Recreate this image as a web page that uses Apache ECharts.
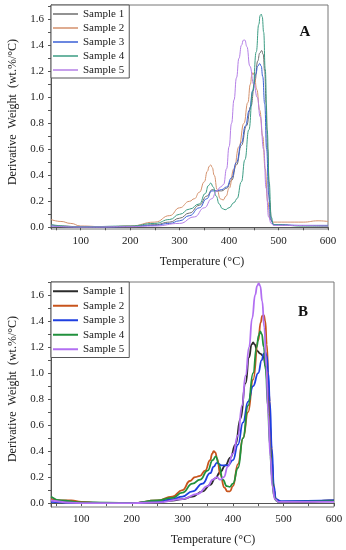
<!DOCTYPE html>
<html><head><meta charset="utf-8">
<script src="https://cdn.jsdelivr.net/npm/echarts@6/dist/echarts.min.js"></script>
<style>html,body{margin:0;padding:0;background:#fff}#c{width:346px;height:550px}</style>
</head><body><div id="c"></div>
<script>
// ---- Data (Temperature °C, Derivative weight wt.%/°C) ----
const sampleNames = ['Sample 1','Sample 2','Sample 3','Sample 4','Sample 5'];
const xLabelValues = [100,200,300,400,500,600];
const yLabelValues = [0,0.2,0.4,0.6,0.8,1.0,1.2,1.4,1.6];

// Panel A
const a1 = [[40,0.02],[60,0.01],[100,0.004],[150,0.004],[200,0.008],[250,0.02],[280,0.04],[300,0.07],[320,0.11],[340,0.17],[355,0.24],[366,0.29],[375,0.28],[385,0.28],[395,0.3],[405,0.36],[415,0.48],[425,0.63],[435,0.78],[444,0.93],[452,1.12],[458,1.28],[462,1.34],[466,1.36],[469,1.33],[472,1.2],[475,0.95],[478,0.6],[482,0.2],[486,0.05],[490,0.02],[550,0.012],[600,0.01]];
const a2 = [[40,0.06],[60,0.045],[80,0.03],[100,0.01],[150,0.004],[200,0.01],[250,0.04],[280,0.09],[300,0.15],[320,0.2],[330,0.22],[340,0.27],[350,0.35],[356,0.43],[360,0.47],[363,0.48],[366,0.46],[370,0.4],[376,0.29],[382,0.22],[388,0.21],[394,0.24],[400,0.3],[410,0.45],[420,0.62],[430,0.8],[438,0.96],[443,1.1],[446,1.17],[448,1.19],[451,1.17],[456,1.06],[462,0.9],[468,0.7],[473,0.45],[478,0.2],[483,0.06],[488,0.04],[550,0.04],[580,0.05],[600,0.045]];
const a3 = [[40,0.01],[100,0.003],[150,0.002],[200,0.006],[250,0.015],[280,0.03],[300,0.05],[320,0.09],[340,0.15],[355,0.22],[365,0.28],[375,0.28],[385,0.29],[395,0.31],[405,0.38],[415,0.5],[425,0.65],[433,0.78],[441,0.9],[448,1.05],[454,1.18],[458,1.24],[462,1.26],[465,1.24],[468,1.16],[472,0.95],[476,0.6],[480,0.25],[484,0.06],[490,0.02],[550,0.015],[600,0.015]];
const a4 = [[40,0.02],[100,0.004],[200,0.01],[250,0.03],[280,0.06],[300,0.1],[320,0.14],[340,0.18],[352,0.26],[358,0.32],[363,0.34],[368,0.31],[374,0.24],[380,0.18],[386,0.145],[392,0.135],[400,0.15],[410,0.19],[416,0.22],[425,0.35],[432,0.52],[440,0.75],[448,1.05],[455,1.35],[460,1.56],[463,1.63],[465,1.64],[467,1.62],[470,1.5],[473,1.22],[477,0.75],[481,0.35],[485,0.08],[490,0.02],[550,0.01],[600,0.01]];
const a5 = [[40,0.01],[100,0.002],[200,0.005],[250,0.01],[300,0.03],[330,0.08],[350,0.15],[365,0.22],[375,0.28],[383,0.31],[389,0.33],[395,0.45],[400,0.62],[405,0.8],[410,0.98],[415,1.15],[420,1.3],[425,1.4],[429,1.44],[432,1.44],[436,1.39],[442,1.24],[450,1.1],[457,1.0],[463,0.85],[470,0.6],[475,0.3],[480,0.08],[485,0.03],[490,0.015],[600,0.01]];

// Panel B
const b1 = [[40,0.02],[60,0.01],[100,0.005],[150,0.0],[200,0.0],[250,0.01],[280,0.02],[300,0.03],[320,0.05],[340,0.09],[355,0.14],[365,0.19],[375,0.24],[385,0.29],[395,0.35],[405,0.45],[415,0.65],[425,0.92],[432,1.12],[437,1.22],[440,1.235],[443,1.22],[448,1.17],[454,1.15],[460,1.13],[465,1.05],[469,0.88],[473,0.62],[477,0.33],[481,0.1],[485,0.03],[490,0.01],[550,0.01],[590,0.02],[600,0.02]];
const b2 = [[40,0.03],[60,0.02],[80,0.02],[100,0.01],[130,0.0],[200,0.0],[250,0.02],[280,0.05],[300,0.1],[315,0.17],[325,0.2],[335,0.21],[345,0.25],[355,0.33],[359,0.38],[362,0.4],[365,0.39],[369,0.34],[375,0.22],[383,0.12],[389,0.09],[394,0.09],[400,0.13],[410,0.3],[420,0.5],[430,0.7],[440,0.95],[450,1.25],[455,1.39],[458,1.44],[461,1.445],[464,1.4],[467,1.22],[471,0.88],[475,0.48],[479,0.16],[484,0.03],[495,0.01],[600,0.015]];
const b3 = [[40,0.01],[100,0.002],[200,0.0],[250,0.01],[280,0.03],[300,0.05],[320,0.09],[340,0.15],[355,0.23],[362,0.28],[368,0.31],[378,0.29],[390,0.29],[400,0.33],[410,0.45],[420,0.62],[430,0.78],[440,0.9],[450,1.0],[457,1.1],[461,1.15],[464,1.16],[467,1.13],[470,1.0],[473,0.78],[477,0.42],[481,0.13],[485,0.03],[495,0.015],[600,0.02]];
const b4 = [[40,0.05],[60,0.02],[100,0.005],[200,0.0],[250,0.02],[280,0.04],[300,0.08],[320,0.15],[335,0.18],[350,0.25],[360,0.33],[366,0.36],[372,0.3],[380,0.18],[388,0.13],[394,0.125],[400,0.15],[410,0.27],[420,0.5],[430,0.75],[440,1.0],[447,1.2],[451,1.29],[454,1.32],[457,1.3],[461,1.2],[465,1.02],[469,0.75],[473,0.45],[477,0.2],[481,0.06],[485,0.02],[490,0.01],[600,0.015]];
const b5 = [[40,0.02],[100,0.0],[200,0.0],[250,0.005],[300,0.03],[330,0.07],[350,0.13],[360,0.18],[368,0.2],[375,0.18],[382,0.2],[390,0.28],[400,0.38],[410,0.52],[418,0.75],[425,0.98],[432,1.2],[438,1.42],[444,1.6],[448,1.67],[451,1.69],[454,1.67],[458,1.55],[462,1.35],[466,1.05],[470,0.68],[474,0.36],[478,0.13],[483,0.03],[490,0.01],[600,0.01]];

const colorsA = ['#6e6e6e','#d4916c','#3a5fd6','#3b9c83','#b47fe6'];
const colorsB = ['#2b2b2b','#c8541c','#1f3fe0','#21913d','#b26ff2'];

const serif = 'Liberation Serif';
const chart = echarts.init(document.getElementById('c'));

function xAxisCfg(gi){
  return {type:'value', gridIndex:gi, min:40, max:600,
    axisLine:{lineStyle:{color:'#555',width:1}},
    axisTick:{show:true, length:3, customValues:[50,100,150,200,250,300,350,400,450,500,550,600], lineStyle:{color:'#555'}},
    axisLabel:{customValues:xLabelValues, fontFamily:serif, fontSize:11, color:'#222', margin:7},
    splitLine:{show:false}};
}
function yTicks(){ const t=[]; for(let i=0;i<=17;i++) t.push(+(i*0.1).toFixed(1)); return t; }
function yAxisCfg(gi,min,max){
  return {type:'value', gridIndex:gi, min:min, max:max,
    axisLine:{show:true, lineStyle:{color:'#555',width:1}},
    axisTick:{show:true, length:3, customValues:yTicks().filter(v=>v<=max), lineStyle:{color:'#555'}},
    axisLabel:{customValues:yLabelValues, formatter:v=>v.toFixed(1), fontFamily:serif, fontSize:11, color:'#222', margin:7},
    splitLine:{show:false}};
}
const dataA=[a1,a2,a3,a4,a5], dataB=[b1,b2,b3,b4,b5];
const series=[];
dataA.forEach((d,i)=>series.push({name:sampleNames[i], type:'line', xAxisIndex:0, yAxisIndex:0, data:d, showSymbol:false, smooth:0.5, smoothMonotone:'x', lineStyle:{color:colorsA[i], width:1}, itemStyle:{color:colorsA[i]}, z:2+i}));
dataB.forEach((d,i)=>series.push({name:sampleNames[i], type:'line', xAxisIndex:1, yAxisIndex:1, data:d, showSymbol:false, smooth:0.5, smoothMonotone:'x', lineStyle:{color:colorsB[i], width:1.8}, itemStyle:{color:colorsB[i]}, z:2+i}));

function legendCfg(top, colors, lh, lw){
  return {orient:'vertical', left:51, top:top, icon:'rect', itemWidth:25, itemHeight:lw, itemGap:0,
    backgroundColor:'#fff', borderColor:'#555', borderWidth:1, padding:[2,5,1,2],
    textStyle:{fontFamily:serif, fontSize:11, color:'#1a1a1a', lineHeight:lh},
    selectedMode:false, z:10,
    data:sampleNames.map((n,i)=>({name:n, itemStyle:{color:colors[i]}}))};
}

chart.setOption({
  animation:false,
  grid:[
    {left:51, top:5, right:18, height:224, show:true, borderColor:'#777', borderWidth:1, backgroundColor:'transparent'},
    {left:51, top:282, right:12, height:225, show:true, borderColor:'#777', borderWidth:1, backgroundColor:'transparent'}
  ],
  xAxis:[xAxisCfg(0), xAxisCfg(1)],
  yAxis:[yAxisCfg(0,-0.013,1.71), yAxisCfg(1,-0.03,1.70)],
  legend:[legendCfg(5, colorsA, 14, 1.5), legendCfg(282, colorsB, 14.5, 2)],
  series:series,
  graphic:[
    {type:'text', x:202, y:262, style:{text:'Temperature (°C)', fontFamily:serif, fontSize:12, fill:'#222', textAlign:'center', textVerticalAlign:'middle'}},
    {type:'text', x:213, y:540, style:{text:'Temperature (°C)', fontFamily:serif, fontSize:12, fill:'#222', textAlign:'center', textVerticalAlign:'middle'}},
    {type:'text', x:13, y:112, rotation:Math.PI/2, style:{text:'Derivative  Weight  (wt.%/°C)', fontFamily:serif, fontSize:12, fill:'#222', textAlign:'center', textVerticalAlign:'middle'}},
    {type:'text', x:13, y:389, rotation:Math.PI/2, style:{text:'Derivative  Weight  (wt.%/°C)', fontFamily:serif, fontSize:12, fill:'#222', textAlign:'center', textVerticalAlign:'middle'}},
    {type:'text', x:305, y:32, style:{text:'A', fontFamily:serif, fontSize:15, fontWeight:'bold', fill:'#111', textAlign:'center', textVerticalAlign:'middle'}},
    {type:'text', x:303, y:312, style:{text:'B', fontFamily:serif, fontSize:15, fontWeight:'bold', fill:'#111', textAlign:'center', textVerticalAlign:'middle'}}
  ]
});
</script></body></html>
